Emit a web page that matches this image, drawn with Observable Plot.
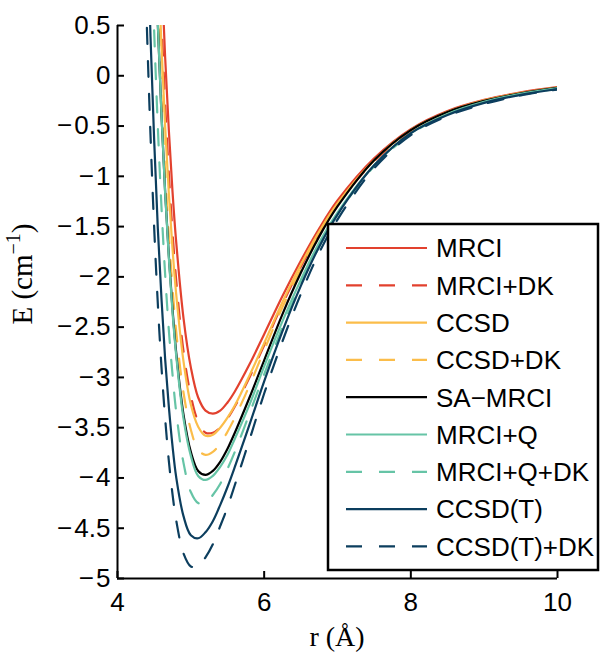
<!DOCTYPE html>
<html><head><meta charset="utf-8">
<script src="https://cdn.jsdelivr.net/npm/d3@7"></script>
<script src="https://cdn.jsdelivr.net/npm/@observablehq/plot@0.6"></script>
<style>body{margin:0;background:#fff} #chart{width:600px;height:654px}</style>
</head><body><div id="chart"></div>
<script>
// separation r (Å)
const r = [4.35,4.4,4.45,4.5,4.55,4.6,4.65,4.7,4.75,4.8,4.9,5.0,5.1,5.2,5.3,5.4,5.5,5.6,5.8,6.0,6.25,6.5,6.75,7.0,7.5,8.0,8.5,9.0,9.5,10.0];
// energies E (cm^-1)
const mrci     = [8.06,6.15,4.57,3.21,2.04,1.04,0.18,-0.54,-1.15,-1.65,-2.41,-2.90,-3.20,-3.33,-3.36,-3.33,-3.25,-3.14,-2.87,-2.57,-2.19,-1.84,-1.52,-1.24,-0.82,-0.53,-0.35,-0.24,-0.165,-0.113];
const mrciDK   = [7.25,5.45,3.93,2.62,1.50,0.54,-0.28,-0.97,-1.55,-2.03,-2.74,-3.18,-3.44,-3.55,-3.55,-3.50,-3.41,-3.29,-3.00,-2.68,-2.27,-1.90,-1.57,-1.28,-0.85,-0.55,-0.36,-0.245,-0.17,-0.115];
const ccsd     = [6.80,5.09,3.59,2.32,1.21,0.29,-0.51,-1.17,-1.72,-2.17,-2.84,-3.27,-3.49,-3.58,-3.57,-3.50,-3.40,-3.28,-2.98,-2.66,-2.25,-1.88,-1.55,-1.27,-0.84,-0.54,-0.36,-0.245,-0.17,-0.116];
const ccsdDK   = [6.04,4.38,2.95,1.72,0.69,-0.21,-0.95,-1.59,-2.10,-2.54,-3.15,-3.52,-3.72,-3.77,-3.74,-3.66,-3.54,-3.40,-3.08,-2.73,-2.30,-1.92,-1.58,-1.29,-0.84,-0.54,-0.36,-0.25,-0.175,-0.118];
const saMrci   = [5.98,4.30,2.83,1.59,0.51,-0.39,-1.16,-1.79,-2.32,-2.75,-3.37,-3.74,-3.93,-3.97,-3.93,-3.84,-3.71,-3.55,-3.20,-2.83,-2.37,-1.96,-1.60,-1.30,-0.84,-0.54,-0.36,-0.25,-0.175,-0.12];
const mrciQ    = [6.06,4.36,2.87,1.61,0.52,-0.39,-1.17,-1.81,-2.35,-2.78,-3.41,-3.78,-3.98,-4.02,-3.98,-3.89,-3.77,-3.61,-3.27,-2.89,-2.44,-2.03,-1.66,-1.36,-0.89,-0.57,-0.38,-0.26,-0.18,-0.125];
const mrciQDK  = [4.39,2.86,1.55,0.44,-0.51,-1.31,-1.98,-2.53,-2.97,-3.34,-3.85,-4.14,-4.25,-4.25,-4.17,-4.06,-3.91,-3.74,-3.36,-2.97,-2.50,-2.07,-1.70,-1.38,-0.90,-0.58,-0.385,-0.265,-0.185,-0.128];
const ccsdT    = [3.10,1.65,0.39,-0.64,-1.52,-2.22,-2.82,-3.29,-3.68,-3.99,-4.38,-4.57,-4.60,-4.54,-4.43,-4.27,-4.09,-3.89,-3.47,-3.04,-2.54,-2.09,-1.70,-1.38,-0.89,-0.57,-0.39,-0.27,-0.19,-0.133];
const ccsdTDK  = [1.79,0.50,-0.59,-1.51,-2.27,-2.90,-3.41,-3.83,-4.16,-4.42,-4.75,-4.88,-4.88,-4.79,-4.66,-4.48,-4.29,-4.07,-3.62,-3.16,-2.64,-2.17,-1.76,-1.43,-0.92,-0.59,-0.40,-0.28,-0.195,-0.136];

const seriesNames  = ["MRCI","MRCI+DK","CCSD","CCSD+DK","SA\u2212MRCI","MRCI+Q","MRCI+Q+DK","CCSD(T)","CCSD(T)+DK"];
const seriesValues = [mrci, mrciDK, ccsd, ccsdDK, saMrci, mrciQ, mrciQDK, ccsdT, ccsdTDK];
const seriesColors = ["#e2412e","#e2412e","#fbbd4a","#fbbd4a","#000000","#66c4a6","#66c4a6","#0c3e5e","#0c3e5e"];
const seriesDashed = [false,true,false,true,false,false,true,false,true];
const xTicks = [4,6,8,10];
const yTicks = [0.5,0,-0.5,-1,-1.5,-2,-2.5,-3,-3.5,-4,-4.5,-5];
const xDomain = [4, 10];
const yDomain = [-5, 0.5];

const W = 600, H = 654, mL = 117, mR = 43, mT = 25, mB = 76;
const innerW = W - mL - mR, innerH = H - mT - mB;
const tickPx = 7;
const tickDx = tickPx * (xDomain[1] - xDomain[0]) / innerW;
const tickDy = tickPx * (yDomain[1] - yDomain[0]) / innerH;
const dash = "16,17";
const fmt = d => d < 0 ? "\u2212\u200A" + Math.abs(d) : String(d);

const rows = seriesNames.map((name, i) => r.map((rv, j) => ({series: name, r: rv, E: seriesValues[i][j]})));

const marks = [];
rows.forEach((data, i) => {
  marks.push(Plot.line(data, {
    x: "r", y: "E", stroke: seriesColors[i], strokeWidth: 2.2,
    strokeDasharray: seriesDashed[i] ? dash : null,
    curve: "catmull-rom", clip: true
  }));
});
marks.push(
  Plot.ruleX([xDomain[0]], {stroke: "black", strokeWidth: 2}),
  Plot.ruleY([yDomain[0]], {stroke: "black", strokeWidth: 2}),
  // inward ticks
  Plot.ruleY(yTicks, {y: d => d, x1: xDomain[0], x2: xDomain[0] + tickDx, stroke: "black", strokeWidth: 2}),
  Plot.ruleX(xTicks, {x: d => d, y1: yDomain[0], y2: yDomain[0] + tickDy, stroke: "black", strokeWidth: 2}),
  // tick labels
  Plot.axisY(yTicks, {tickSize: 0, tickPadding: 7, tickFormat: fmt, label: null, fontSize: 26}),
  Plot.axisX(xTicks, {tickSize: 0, tickPadding: 14, tickFormat: fmt, label: null, fontSize: 26})
);

const chart = Plot.plot({
  width: W, height: H,
  marginLeft: mL, marginRight: mR, marginTop: mT, marginBottom: mB,
  x: {domain: xDomain},
  y: {domain: yDomain},
  style: {fontFamily: "'Liberation Sans', Arial, sans-serif", fontSize: "26px", color: "black", background: "white"},
  marks
});
document.getElementById("chart").appendChild(chart);

const svg = d3.select(chart);
// axis titles
const yl = svg.append("text")
  .attr("transform", "translate(32,274) rotate(-90)")
  .attr("text-anchor", "middle")
  .attr("font-family", "'Liberation Serif', 'DejaVu Serif', serif")
  .attr("font-size", 29).attr("fill", "black");
yl.append("tspan").text("E (cm");
yl.append("tspan").attr("font-size", 20).attr("dy", -12).text("\u22121");
yl.append("tspan").attr("dy", 12).text(")");

svg.append("text")
  .attr("x", mL + innerW / 2).attr("y", 646)
  .attr("text-anchor", "middle")
  .attr("font-family", "'Liberation Serif', 'DejaVu Serif', serif")
  .attr("font-size", 28).attr("fill", "black")
  .text("r (\u00C5)");

// legend
const lg = svg.append("g");
lg.append("rect").attr("x", 328).attr("y", 224).attr("width", 270).attr("height", 346)
  .attr("fill", "white").attr("stroke", "black").attr("stroke-width", 2.5);
seriesNames.forEach((name, i) => {
  const cy = 248 + 37.3 * i;
  lg.append("line").attr("x1", 346).attr("x2", 427).attr("y1", cy).attr("y2", cy)
    .attr("stroke", seriesColors[i]).attr("stroke-width", 2.2)
    .attr("stroke-dasharray", seriesDashed[i] ? dash : null);
  lg.append("text").attr("x", 436).attr("y", cy).attr("dy", "0.36em")
    .attr("text-anchor", "start")
    .attr("font-family", "'Liberation Sans', Arial, sans-serif").attr("font-size", 26)
    .attr("fill", "black").text(name);
});
</script>
</body></html>
